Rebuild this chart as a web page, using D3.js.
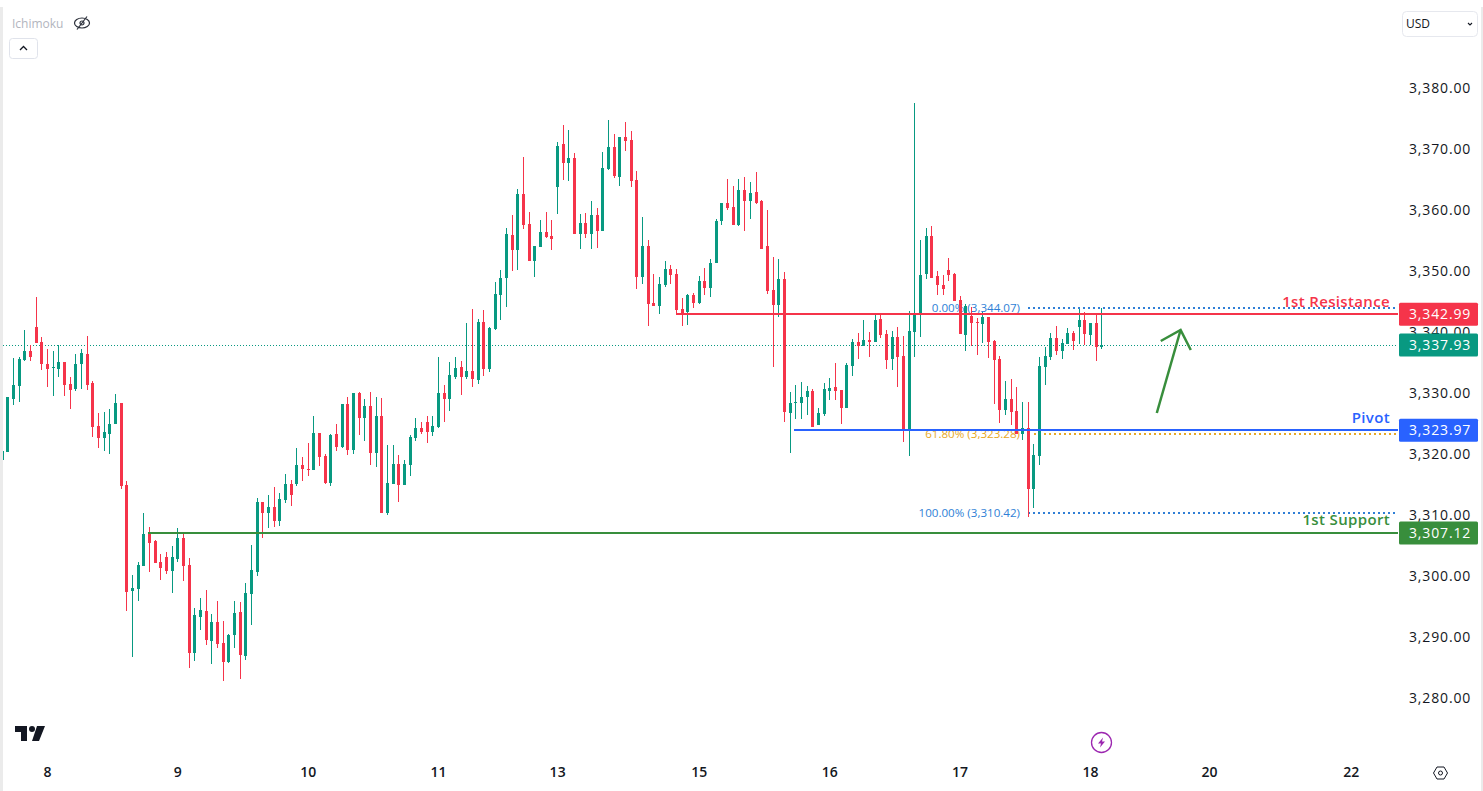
<!DOCTYPE html>
<html>
<head>
<meta charset="utf-8">
<script src="https://cdn.jsdelivr.net/npm/d3@7"></script>
<style>
  html, body { margin: 0; background: #fff; overflow: hidden; }
  svg { display: block; }
  text { font-family: "Open Sans", sans-serif; }
</style>
</head>
<body>
<script>
// candles, oldest first. the first one is cut off by the pane edge, only its wick shows
const opens = [3320.00,
  3320.40,3329.08,3331.21,3335.48,3336.95,3340.89,3338.43,3334.82,3334.17,3334.00,3335.15,3331.54,3330.72,3334.82,3336.46,3331.71,3324.66,3322.69,3323.35,3324.99,
  3328.43,3314.99,3297.61,3297.94,3301.71,3307.28,3305.81,3302.37,3303.18,3300.89,3302.86,3306.30,3301.87,3287.45,3293.35,3294.33,3289.42,3292.53,3289.09,3285.97,
  3290.40,3294.17,3286.96,3297.12,3300.73,3312.20,3310.40,3311.38,3309.09,3312.53,3315.15,3315.15,3318.26,3317.61,3317.45,3323.51,3319.74,3315.31,3323.35,3321.22,
  3328.26,3320.72,3330.07,3325.97,3327.94,3320.23,3326.30,3310.40,3315.15,3318.43,3314.99,3318.26,3322.69,3324.33,3325.31,3323.67,3324.49,3330.07,3329.08,3332.69,
  3334.33,3332.69,3333.67,3332.20,3341.71,3334.00,3340.56,3346.13,3348.92,3355.97,3353.51,3362.69,3357.77,3351.71,3354.00,3356.46,3355.81,3363.84,3370.89,3367.77,
  3368.59,3356.13,3357.94,3356.13,3359.25,3356.63,3366.79,3370.39,3365.48,3372.03,3371.54,3364.99,3349.09,3354.17,3344.82,3344.33,3347.77,3350.40,3349.57,3343.84,
  3343.34,3346.13,3344.82,3348.43,3347.28,3351.38,3358.26,3361.21,3360.56,3357.61,3363.34,3361.54,3363.01,3361.54,3354.16,3346.95,3344.49,3348.75,3326.79,3328.43,
  3328.43,3329.41,3330.39,3324.82,3326.62,3330.39,3331.05,3330.56,3327.61,3334.49,3338.43,3337.77,3338.75,3338.43,3342.20,3339.74,3335.64,3339.25,3336.13,3324.00,
  3340.07,3342.85,3349.57,3355.80,3349.25,3347.78,3350.23,3349.58,3345.32,3339.58,3342.69,3341.71,3341.38,3342.53,3338.60,3335.65,3327.29,3329.09,3327.12,3323.35,
  3324.34,3314.34,3319.75,3334.33,3335.97,3339.09,3336.96,3338.11,3339.91,3340.89,3342.04,3339.58,3341.55,3337.61];
const highs = [3320.56,
  3329.41,3335.80,3335.97,3340.39,3337.94,3345.80,3339.25,3337.28,3336.95,3337.94,3335.15,3332.69,3336.46,3337.28,3339.41,3332.03,3326.79,3326.95,3327.44,3329.90,
  3328.43,3315.64,3300.23,3302.37,3310.40,3308.10,3305.97,3303.68,3304.00,3304.99,3307.94,3307.28,3303.02,3294.82,3296.46,3297.77,3293.84,3295.97,3292.69,3290.56,
  3295.97,3295.81,3298.92,3305.15,3312.86,3312.20,3313.35,3314.66,3313.68,3316.79,3315.81,3321.05,3319.58,3321.87,3326.30,3323.51,3320.07,3323.35,3324.99,3328.26,
  3329.41,3330.07,3330.23,3329.08,3330.23,3329.41,3329.25,3321.54,3321.54,3319.90,3319.08,3323.18,3325.97,3325.31,3326.30,3326.30,3335.97,3331.38,3335.15,3335.97,
  3335.31,3341.54,3343.84,3342.20,3343.67,3340.89,3348.26,3350.23,3357.12,3359.25,3363.51,3368.76,3359.74,3354.17,3358.43,3359.74,3358.43,3371.21,3374.00,3373.18,
  3369.41,3359.41,3359.58,3361.54,3360.40,3369.58,3374.82,3372.53,3372.03,3374.49,3373.02,3366.46,3358.92,3355.15,3349.58,3349.09,3351.71,3351.05,3350.39,3345.64,
  3346.30,3346.46,3349.25,3350.56,3352.03,3358.59,3361.21,3365.15,3364.00,3365.15,3365.47,3364.65,3366.29,3361.70,3360.06,3352.36,3352.03,3349.90,3330.23,3331.38,
  3331.87,3331.21,3330.72,3327.61,3331.71,3332.53,3334.98,3330.56,3334.98,3338.92,3339.90,3342.03,3340.07,3342.85,3342.85,3340.39,3340.23,3340.89,3339.41,3343.51,
  3377.60,3355.15,3357.11,3357.44,3350.06,3349.42,3352.20,3349.74,3345.97,3344.66,3344.17,3342.37,3343.35,3342.53,3338.76,3336.14,3332.04,3332.37,3331.06,3328.60,
  3328.60,3321.71,3335.97,3337.61,3339.91,3341.06,3338.92,3340.73,3340.24,3343.84,3343.35,3341.55,3342.86,3344.01];
const lows = [3319.08,
  3320.40,3328.10,3328.59,3335.31,3335.31,3338.26,3333.84,3331.05,3329.58,3332.69,3329.58,3327.44,3330.39,3330.72,3330.56,3322.85,3321.05,3320.56,3320.07,3324.99,
  3314.33,3294.33,3286.79,3295.97,3301.71,3300.73,3302.20,3299.41,3300.40,3297.28,3302.37,3299.25,3284.99,3286.14,3291.22,3288.76,3285.64,3288.27,3282.86,3285.81,
  3288.27,3283.19,3286.30,3292.04,3300.07,3306.30,3307.94,3308.10,3308.27,3312.04,3311.54,3314.82,3315.64,3316.46,3317.45,3318.10,3315.15,3314.82,3320.56,3321.05,
  3319.90,3320.07,3323.18,3322.20,3318.26,3317.94,3310.40,3310.07,3315.15,3312.20,3314.99,3316.46,3322.20,3323.35,3321.87,3323.02,3324.33,3325.31,3327.12,3332.36,
  3329.74,3332.36,3331.05,3331.54,3332.85,3333.51,3340.39,3342.04,3344.17,3350.07,3350.23,3356.95,3351.71,3349.09,3354.00,3355.48,3353.51,3359.41,3364.99,3364.82,
  3356.13,3353.68,3355.48,3353.68,3353.84,3356.63,3366.62,3365.31,3364.00,3369.74,3363.84,3347.12,3347.94,3341.05,3344.33,3343.02,3347.45,3347.94,3342.85,3341.05,
  3341.21,3344.00,3344.66,3346.13,3345.80,3351.38,3357.61,3360.06,3357.61,3357.44,3356.62,3358.59,3361.05,3353.67,3346.30,3334.33,3342.52,3325.31,3320.23,3325.80,
  3325.80,3326.46,3324.49,3324.82,3326.30,3328.92,3328.92,3324.98,3327.61,3332.85,3335.64,3337.77,3335.97,3338.43,3339.08,3334.00,3333.84,3331.05,3322.04,3319.74,
  3335.97,3339.25,3348.75,3348.92,3346.13,3346.14,3348.43,3345.15,3339.74,3336.96,3337.78,3336.30,3338.27,3335.81,3328.27,3325.16,3326.47,3324.83,3323.35,3322.37,
  3309.75,3311.22,3318.27,3331.38,3335.48,3336.30,3335.65,3338.11,3337.12,3338.11,3337.94,3337.94,3335.32,3337.29];
const closes = [3320.00,
  3329.41,3331.38,3335.64,3336.95,3335.97,3338.26,3334.82,3334.00,3334.33,3335.15,3331.38,3330.56,3334.82,3336.62,3331.38,3324.49,3322.69,3323.67,3324.99,3328.43,
  3314.82,3297.45,3298.10,3301.87,3306.95,3305.48,3302.20,3301.38,3300.89,3303.18,3306.30,3301.71,3287.45,3293.68,3294.50,3289.58,3292.53,3288.92,3285.97,3290.40,
  3294.01,3287.12,3297.28,3301.05,3312.20,3310.40,3311.38,3309.09,3312.69,3315.15,3313.35,3318.26,3317.61,3317.45,3323.51,3319.58,3315.31,3323.18,3321.22,3328.26,
  3320.72,3330.07,3325.97,3327.94,3320.23,3326.30,3310.40,3315.31,3318.43,3314.99,3318.43,3322.85,3324.33,3323.67,3323.67,3324.66,3330.07,3329.08,3333.02,3334.17,
  3332.69,3333.67,3332.36,3341.71,3334.00,3340.72,3346.30,3348.92,3356.13,3353.51,3362.69,3357.61,3351.71,3354.17,3356.46,3355.64,3355.31,3370.56,3367.77,3368.59,
  3356.13,3357.94,3356.13,3359.25,3356.63,3366.95,3370.39,3365.64,3372.03,3371.38,3364.82,3349.09,3354.17,3344.66,3344.33,3347.94,3350.40,3349.41,3343.67,3342.85,
  3346.13,3344.82,3348.43,3347.28,3351.38,3358.26,3361.21,3360.39,3357.61,3363.34,3361.54,3362.85,3361.21,3353.67,3346.79,3344.49,3348.75,3326.95,3328.43,3328.59,
  3329.41,3330.39,3324.49,3326.79,3330.72,3330.89,3330.39,3327.61,3334.66,3338.43,3337.77,3338.75,3338.43,3342.03,3339.57,3335.48,3339.25,3335.97,3324.00,3340.23,
  3342.85,3349.41,3355.80,3348.92,3347.77,3347.12,3349.42,3345.15,3339.74,3344.33,3341.55,3341.55,3342.53,3338.43,3335.48,3327.29,3329.09,3326.96,3323.35,3324.34,
  3314.34,3319.91,3334.50,3336.14,3339.09,3336.96,3338.27,3339.91,3338.60,3342.04,3339.74,3341.55,3337.61,3337.93];

const priceTicks = d3.range(3280, 3381, 10);
const dateLabels = ["8", "9", "10", "11", "13", "15", "16", "17", "18", "20", "22"];
const dateTicks = [8, 31, 54, 77, 98, 123, 146, 169, 192, 213, 238]; // candle index of each label

const lastPrice = 3337.93;
const levelNames = ["1st Resistance", "Pivot", "1st Support"];
const levelPrices = [3342.99, 3323.97, 3307.12];
const levelStarts = [119, 139.8, 25.8]; // candle index where the line starts
const levelColors = ["#f5344a", "#2962ff", "#388e3c"];

const fibNames = ["0.00%", "61.80%", "100.00%"];
const fibPrices = [3344.07, 3323.28, 3310.42];
const fibColors = ["#2f7fd6", "#e8a823", "#2f7fd6"];
const fibStart = 181.1;

const arrowShaft = [[203.8, 3326.79], [208, 3340.39]];
const arrowHead = [[204.5, 3338.59], [208, 3340.39], [209.8, 3337.11]];

const width = 1483, height = 791;
const paneLeft = 3, paneRight = 1398;
const upColor = "#089981", downColor = "#f5344a", inkColor = "#131722";

const x = d3.scaleLinear().domain([1, 194]).range([7.33, 1101.25]);
const y = d3.scaleLinear().domain([3330, 3280]).range([393.4, 698.4]);

const candles = opens.map((o, i) => ({ i, o, h: highs[i], l: lows[i], c: closes[i] }));
const col = d => Math.max(paneLeft, Math.round(x(d.i)));
const candleColor = d => d.c >= d.o ? upColor : downColor;
const fmt = d3.format(",.2f");

const svg = d3.select("body").append("svg")
    .attr("width", width)
    .attr("height", height)
    .attr("viewBox", [0, 0, width, height]);

// fib retracement sits under the candles
const fib = svg.append("g");
fib.selectAll("line")
  .data(fibPrices)
  .join("line")
    .attr("x1", (d, i) => i == 1 ? x(fibStart + 1) : x(fibStart))
    .attr("x2", paneRight)
    .attr("y1", d => y(d))
    .attr("y2", d => y(d))
    .attr("stroke", (d, i) => fibColors[i])
    .attr("stroke-width", 2)
    .attr("shape-rendering", "crispEdges")
    .attr("stroke-dasharray", "2 3");
fib.selectAll("text")
  .data(fibPrices)
  .join("text")
    .attr("x", 1020)
    .attr("y", d => y(d) + 4)
    .attr("text-anchor", "end")
    .attr("font-size", 11.6)
    .attr("fill", (d, i) => fibColors[i])
    .text((d, i) => `${fibNames[i]} (${fmt(d)})`);

// last price dotted line
svg.append("line")
    .attr("x1", paneLeft)
    .attr("x2", paneRight)
    .attr("y1", y(lastPrice))
    .attr("y2", y(lastPrice))
    .attr("stroke", upColor)
    .attr("shape-rendering", "crispEdges")
    .attr("stroke-dasharray", "1 2");

const candleG = svg.append("g").attr("shape-rendering", "crispEdges");
candleG.selectAll(".wick")
  .data(candles)
  .join("rect")
    .attr("class", "wick")
    .attr("x", col)
    .attr("width", 1)
    .attr("y", d => y(d.h))
    .attr("height", d => y(d.l) - y(d.h))
    .attr("fill", candleColor);
candleG.selectAll(".body")
  .data(candles.slice(1))
  .join("rect")
    .attr("class", "body")
    .attr("x", d => col(d) - 1)
    .attr("width", 3)
    .attr("y", d => y(Math.max(d.o, d.c)))
    .attr("height", d => Math.max(1, Math.abs(y(d.o) - y(d.c))))
    .attr("fill", candleColor);

// support / resistance levels
svg.append("g").selectAll("line")
  .data(levelPrices)
  .join("line")
    .attr("x1", (d, i) => x(levelStarts[i]))
    .attr("x2", paneRight)
    .attr("y1", d => y(d))
    .attr("y2", d => y(d))
    .attr("stroke", (d, i) => levelColors[i])
    .attr("shape-rendering", "crispEdges")
    .attr("stroke-width", 2);
svg.append("g").selectAll("text")
  .data(levelPrices)
  .join("text")
    .attr("x", 1390)
    .attr("y", d => y(d) - 7.5)
    .attr("text-anchor", "end")
    .attr("font-size", 15)
    .attr("font-weight", 600)
    .attr("letter-spacing", 0.35)
    .attr("fill", (d, i) => levelColors[i])
    .text((d, i) => levelNames[i]);

// hand drawn arrow
const arrowLine = d3.line().x(d => x(d[0])).y(d => y(d[1]));
svg.append("g").selectAll("path")
  .data([arrowShaft, arrowHead])
  .join("path")
    .attr("d", arrowLine)
    .attr("fill", "none")
    .attr("stroke", "#388e3c")
    .attr("stroke-width", 2.5);

// price axis
svg.append("g")
    .attr("transform", "translate(1409,-0.5)")
    .call(d3.axisRight(y).tickValues(priceTicks).tickFormat(fmt).tickSize(0).tickPadding(0))
    .call(g => g.select(".domain").remove())
    .call(g => g.selectAll("text")
        .attr("font-family", null)
        .attr("font-size", 14)
        .attr("letter-spacing", 0.85)
        .attr("fill", inkColor));

// price tags on the axis
const tags = levelPrices.concat(lastPrice);
const tagColors = levelColors.concat(upColor);
const tagG = svg.append("g").selectAll("g")
  .data(tags)
  .join("g")
    .attr("transform", d => `translate(1399,${y(d)})`);
tagG.append("rect")
    .attr("y", -11.5)
    .attr("width", 79)
    .attr("height", 23)
    .attr("rx", 1.5)
    .attr("fill", (d, i) => tagColors[i]);
tagG.append("text")
    .attr("x", 10)
    .attr("y", 5)
    .attr("font-size", 14)
    .attr("font-weight", 500)
    .attr("letter-spacing", 0.85)
    .attr("fill", "#fff")
    .text(d => fmt(d));

// time axis
svg.append("g")
    .attr("transform", "translate(0,767.5)")
    .call(d3.axisBottom(x).tickValues(dateTicks).tickFormat((d, i) => dateLabels[i]).tickSize(0).tickPadding(0))
    .call(g => g.select(".domain").remove())
    .call(g => g.selectAll("text")
        .attr("dy", "0.71em")
        .attr("font-size", 14)
        .attr("font-weight", 600)
        .attr("fill", inkColor));

// pane borders
svg.append("rect").attr("x", 0).attr("y", 7).attr("width", paneLeft).attr("height", height - 7).attr("fill", "#ebebeb");
svg.append("rect").attr("x", 1481).attr("y", 7).attr("width", 2).attr("height", height - 7).attr("fill", "#ebebeb");

// indicator legend
svg.append("text")
    .attr("x", 12)
    .attr("y", 27.5)
    .attr("font-size", 12)
    .attr("fill", "#b2b5be")
    .text("Ichimoku");
const eye = svg.append("g")
    .attr("transform", "translate(82,23)")
    .attr("fill", "none")
    .attr("stroke", "#2a2e39")
    .attr("stroke-width", 1.2);
eye.append("ellipse").attr("rx", 7.5).attr("ry", 5);
eye.append("circle").attr("r", 2);
eye.append("line").attr("x1", -5).attr("y1", 6.5).attr("x2", 5).attr("y2", -6.5);

svg.append("rect")
    .attr("x", 9.5).attr("y", 38.5).attr("width", 28).attr("height", 20).attr("rx", 3)
    .attr("fill", "#fff").attr("stroke", "#e0e3eb");
svg.append("path")
    .attr("d", "M20 50 L23.5 46.5 L27 50")
    .attr("fill", "none").attr("stroke", "#131722").attr("stroke-width", 1.3);

// currency button
svg.append("rect")
    .attr("x", 1402.5).attr("y", 11.5).attr("width", 75).attr("height", 25).attr("rx", 4)
    .attr("fill", "#fff").attr("stroke", "#e6e8ee");
svg.append("text")
    .attr("x", 1406).attr("y", 28)
    .attr("font-size", 12)
    .attr("fill", inkColor)
    .text("USD");
svg.append("path")
    .attr("d", "M1468 23 L1470 25 L1472 23")
    .attr("fill", "none").attr("stroke", "#131722").attr("stroke-width", 1.1);

// logo
svg.append("path")
    .attr("d", "M15 726 H27 V741 H21 V732 H15 Z M37 726 H45 L39 741 H32 Z")
    .attr("fill", inkColor);
svg.append("circle").attr("cx", 32).attr("cy", 729).attr("r", 3).attr("fill", inkColor);

// lightning badge
const bolt = svg.append("g").attr("transform", "translate(1101.5,742.5)");
bolt.append("circle").attr("r", 10).attr("fill", "#fff").attr("stroke", "#9c27b0").attr("stroke-width", 1.3);
bolt.append("path").attr("d", "M1.5 -5 L-3.5 1 H-0.5 L-1.5 5 L3.5 -1 H0.5 Z").attr("fill", "#9c27b0");

// settings nut
const nut = svg.append("g")
    .attr("transform", "translate(1440.5,773)")
    .attr("fill", "none")
    .attr("stroke", inkColor)
    .attr("stroke-width", 1);
nut.append("path").attr("d", "M-7 0 L-3.5 -6 H3.5 L7 0 L3.5 6 H-3.5 Z");
nut.append("circle").attr("r", 2);
</script>
</body>
</html>
